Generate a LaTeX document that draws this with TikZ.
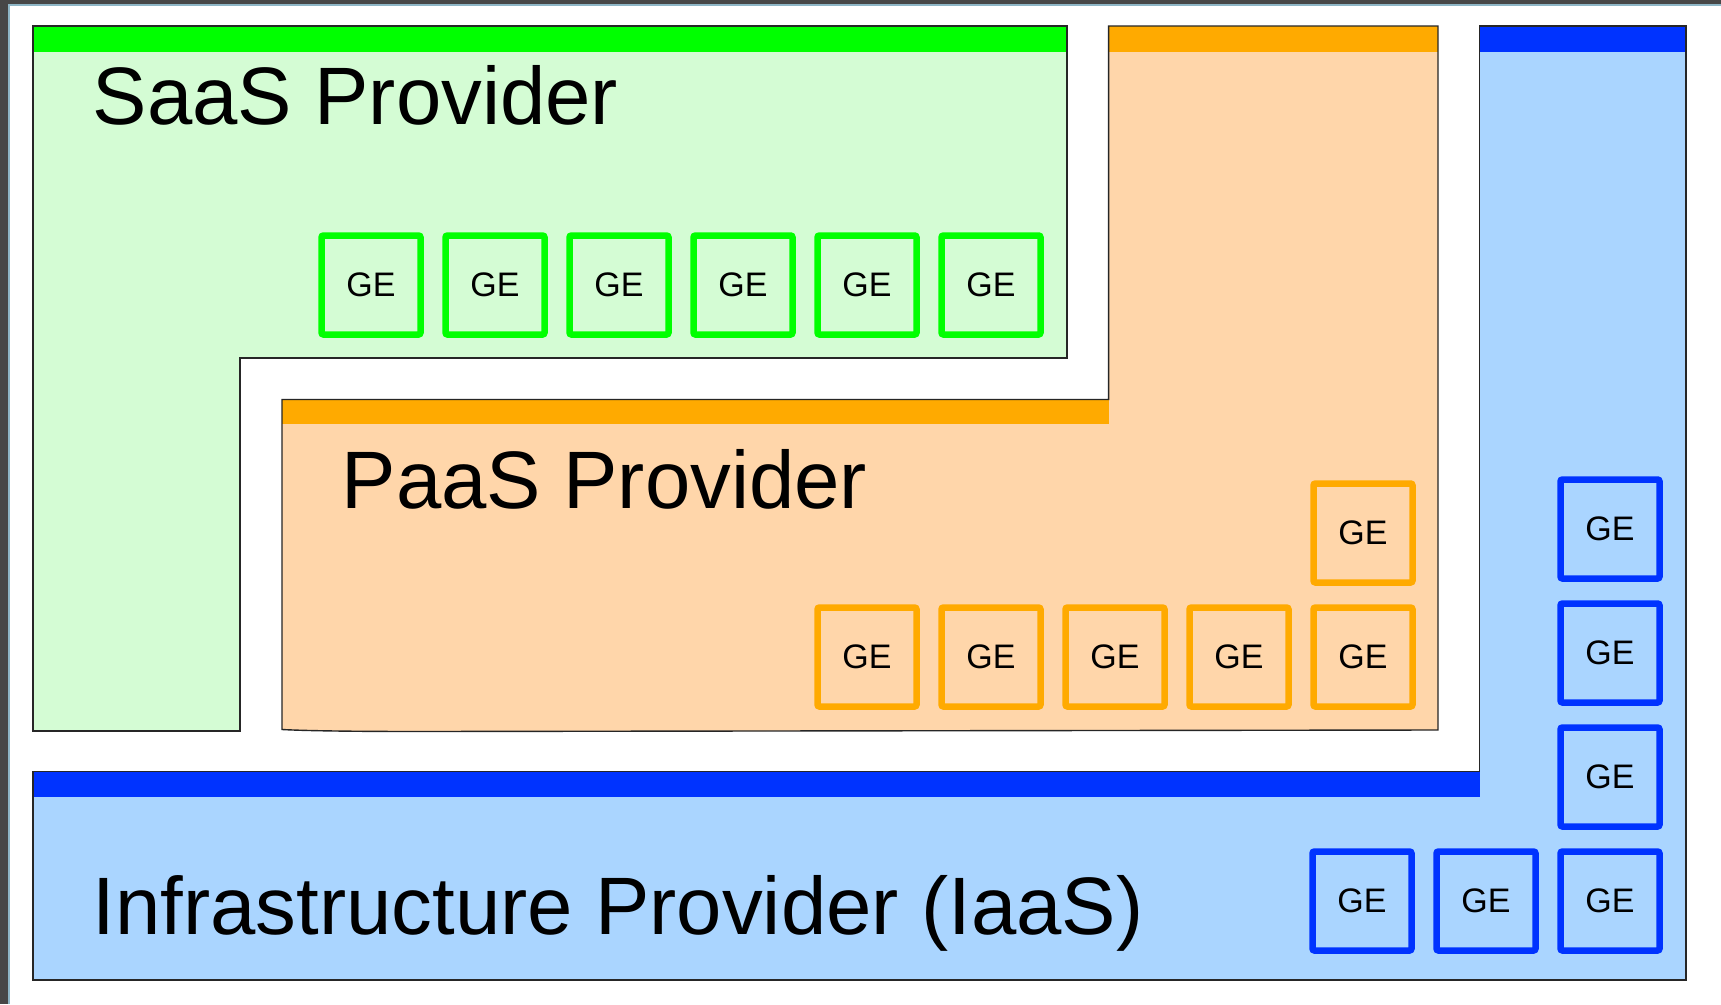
\documentclass[tikz,border=0pt]{standalone}
\usepackage{fontspec}
\setmainfont{Liberation Sans}

\definecolor{saasFill}{HTML}{D4FCD4}
\definecolor{saasBar}{HTML}{00FF00}
\definecolor{paasFill}{HTML}{FFD6AA}
\definecolor{paasBar}{HTML}{FFAA00}
\definecolor{iaasFill}{HTML}{AAD5FF}
\definecolor{iaasBar}{HTML}{0033FF}
\definecolor{frameDark}{HTML}{474747}
\definecolor{frameEdge}{HTML}{8EB6C6}
\definecolor{outlineGray}{HTML}{262626}

\tikzset{
  outline/.style={draw=outlineGray, line width=1.4pt, line join=miter},
  gebox/.style={draw, line width=6.5pt, rounded corners=2pt,
    minimum width=99pt, minimum height=99pt, inner sep=0pt,
    font=\fontsize{34}{40}\selectfont},
  gesaas/.style={gebox, draw=saasBar},
  gepaas/.style={gebox, draw=paasBar},
  geiaas/.style={gebox, draw=iaasBar},
  title/.style={anchor=base west, inner sep=0pt,
    font=\fontsize{81.5}{98}\selectfont},
}

\begin{document}
\begin{tikzpicture}[x=1pt, y=-1pt]
\useasboundingbox (0,0) rectangle (1721,1004);
\fill[white] (0,0) rectangle (1721,1004);

% window frame along the top and left
\fill[frameDark] (0,0) rectangle (1721,4);
\fill[frameDark] (0,0) rectangle (8,1004);
\fill[frameEdge] (8,4) rectangle (1721,6);
\fill[frameEdge] (8,4) rectangle (10,1004);

% SaaS provider area
\fill[saasFill] (33,26) -- (1067,26) -- (1067,358) -- (240,358) -- (240,731) -- (33,731) -- cycle;
\fill[saasBar] (33,26) rectangle (1067,51.6);
\draw[outline] (33,26) -- (1067,26) -- (1067,358) -- (240,358) -- (240,731) -- (33,731) -- cycle;

% PaaS provider area
\fill[paasFill] (282,399.5) -- (1108.6,399.5) -- (1108.6,26) -- (1438,26) -- (1438,730)
  -- (420,731.5) .. controls (340,731.5) and (300,730.5) .. (282,729.5) -- cycle;
\fill[paasBar] (282,399.5) rectangle (1108.6,423.5);
\fill[paasBar] (1108.6,26) rectangle (1438,51.6);
\draw[outline] (282,399.5) -- (1108.6,399.5) -- (1108.6,26) -- (1438,26) -- (1438,730)
  -- (420,731.5) .. controls (340,731.5) and (300,730.5) .. (282,729.5) -- cycle;

% IaaS provider area
\fill[iaasFill] (33,771.5) -- (1479.7,771.5) -- (1479.7,26) -- (1686,26) -- (1686,980) -- (33,980) -- cycle;
\fill[iaasBar] (33,771.5) rectangle (1479.7,796.7);
\fill[iaasBar] (1479.7,26) rectangle (1686,51.6);
\draw[outline] (33,771.5) -- (1479.7,771.5) -- (1479.7,26) -- (1686,26) -- (1686,980) -- (33,980) -- cycle;

% titles
\node[title] (saasTitle) at (92.5,124.5) {SaaS Provider};
\node[title] (paasTitle) at (341.5,508) {PaaS Provider};
\node[title] (iaasTitle) at (92.5,934.5) {Infrastructure Provider (IaaS)};

% SaaS generic enablers
\node[gesaas] (s1) at (371,285) {GE};
\node[gesaas] (s2) at (495,285) {GE};
\node[gesaas] (s3) at (619,285) {GE};
\node[gesaas] (s4) at (743,285) {GE};
\node[gesaas] (s5) at (867,285) {GE};
\node[gesaas] (s6) at (991,285) {GE};

% PaaS generic enablers
\node[gepaas] (p0) at (1363,533) {GE};
\node[gepaas] (p1) at (867,657) {GE};
\node[gepaas] (p2) at (991,657) {GE};
\node[gepaas] (p3) at (1115,657) {GE};
\node[gepaas] (p4) at (1239,657) {GE};
\node[gepaas] (p5) at (1363,657) {GE};

% IaaS generic enablers
\node[geiaas] (i1) at (1610,529) {GE};
\node[geiaas] (i2) at (1610,653) {GE};
\node[geiaas] (i3) at (1610,777) {GE};
\node[geiaas] (i4) at (1362,901) {GE};
\node[geiaas] (i5) at (1486,901) {GE};
\node[geiaas] (i6) at (1610,901) {GE};
\end{tikzpicture}
\end{document}
